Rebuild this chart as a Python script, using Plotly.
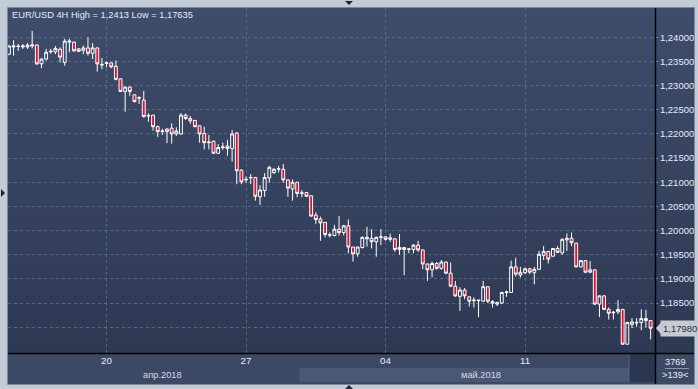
import base64
import pandas as pd
import plotly.graph_objects as go

# ---------------- data (EUR/USD, 4H) ----------------
open_ = [1.2365,1.2380,1.2382,1.2380,1.2380,1.2382,1.2384,1.2345,1.2355,1.2370,
         1.2370,1.2375,1.2348,1.2390,1.2390,1.2376,1.2373,1.2378,1.2367,1.2378,
         1.2344,1.2346,1.2347,1.2340,1.2314,1.2288,1.2297,1.2281,1.2274,1.2270,
         1.2237,1.2239,1.2215,1.2205,1.2205,1.2212,1.2200,1.2200,1.2239,1.2232,
         1.2228,1.2217,1.2201,1.2182,1.2185,1.2160,1.2172,1.2175,1.2170,1.2202,
         1.2125,1.2105,1.2109,1.2110,1.2070,1.2083,1.2109,1.2120,1.2127,1.2127,
         1.2105,1.2086,1.2100,1.2077,1.2079,1.2072,1.2032,1.2024,1.2017,1.1991,
         1.1990,1.2003,1.1996,1.2010,1.1966,1.1952,1.1965,1.1983,1.1984,1.1977,
         1.1986,1.1987,1.1982,1.1983,1.1961,1.1965,1.1961,1.1961,1.1970,1.1960,
         1.1931,1.1919,1.1932,1.1922,1.1935,1.1912,1.1885,1.1864,1.1877,1.1863,
         1.1855,1.1855,1.1854,1.1884,1.1853,1.1848,1.1850,1.1872,1.1872,1.1925,
         1.1908,1.1913,1.1921,1.1913,1.1920,1.1949,1.1957,1.1947,1.1963,1.1954,
         1.1981,1.1984,1.1974,1.1925,1.1938,1.1919,1.1919,1.1848,1.1865,1.1837,
         1.1830,1.1832,1.1837,1.1765,1.1806,1.1809,1.1810,1.1818,1.1814]
high = [1.2383,1.2394,1.2386,1.2386,1.2388,1.2413,1.2385,1.2356,1.2376,1.2376,
        1.2382,1.2379,1.2397,1.2397,1.2391,1.2378,1.2383,1.2400,1.2388,1.2379,
        1.2357,1.2350,1.2348,1.2352,1.2315,1.2298,1.2298,1.2282,1.2278,1.2289,
        1.2243,1.2239,1.2217,1.2211,1.2212,1.2222,1.2214,1.2243,1.2242,1.2237,
        1.2229,1.2218,1.2215,1.2198,1.2186,1.2179,1.2182,1.2188,1.2208,1.2204,
        1.2127,1.2112,1.2117,1.2111,1.2094,1.2119,1.2134,1.2129,1.2134,1.2138,
        1.2106,1.2106,1.2101,1.2084,1.2080,1.2073,1.2038,1.2029,1.2018,1.1996,
        1.2012,1.2030,1.2012,1.2023,1.1966,1.1967,1.1988,1.2008,1.2003,1.1988,
        1.2003,1.1988,1.1994,1.1984,1.1993,1.1966,1.1963,1.1972,1.1979,1.1961,
        1.1932,1.1936,1.1935,1.1939,1.1936,1.1934,1.1896,1.1883,1.1881,1.1864,
        1.1862,1.1857,1.1896,1.1885,1.1856,1.1853,1.1874,1.1876,1.1938,1.1944,
        1.1925,1.1923,1.1923,1.1925,1.1958,1.1968,1.1958,1.1964,1.1968,1.1984,
        1.1994,1.1996,1.1975,1.1939,1.1939,1.1937,1.1920,1.1866,1.1866,1.1841,
        1.1834,1.1856,1.1838,1.1811,1.1819,1.1819,1.1837,1.1836,1.1815]
low = [1.2363,1.2362,1.2372,1.2376,1.2376,1.2377,1.2343,1.2336,1.2352,1.2366,
       1.2365,1.2348,1.2341,1.2369,1.2370,1.2370,1.2365,1.2362,1.2355,1.2329,
       1.2334,1.2338,1.2336,1.2311,1.2287,1.2246,1.2279,1.2265,1.2262,1.2234,
       1.2225,1.2207,1.2194,1.2198,1.2181,1.2180,1.2196,1.2198,1.2229,1.2221,
       1.2214,1.2182,1.2168,1.2168,1.2160,1.2159,1.2167,1.2155,1.2143,1.2096,
       1.2096,1.2099,1.2096,1.2062,1.2053,1.2070,1.2099,1.2117,1.2120,1.2099,
       1.2070,1.2062,1.2069,1.2069,1.2070,1.2029,1.2014,1.1979,1.1986,1.1986,
       1.1988,1.1990,1.1990,1.1953,1.1936,1.1946,1.1963,1.1967,1.1963,1.1946,
       1.1970,1.1979,1.1977,1.1956,1.1950,1.1908,1.1953,1.1953,1.1956,1.1920,
       1.1896,1.1903,1.1919,1.1919,1.1910,1.1883,1.1863,1.1834,1.1858,1.1843,
       1.1841,1.1821,1.1853,1.1850,1.1841,1.1844,1.1848,1.1863,1.1871,1.1905,
       1.1903,1.1910,1.1910,1.1889,1.1919,1.1939,1.1932,1.1946,1.1954,1.1950,
       1.1958,1.1968,1.1924,1.1924,1.1912,1.1912,1.1846,1.1821,1.1836,1.1816,
       1.1816,1.1827,1.17635,1.1764,1.1798,1.1801,1.1794,1.1800,1.1775]
close = [1.2382,1.2382,1.2381,1.2382,1.2384,1.2384,1.2345,1.2355,1.2369,1.2371,
         1.2377,1.2359,1.2392,1.2392,1.2372,1.2371,1.2378,1.2367,1.2378,1.2345,
         1.2343,1.2347,1.2339,1.2313,1.2288,1.2297,1.2288,1.2267,1.2275,1.2236,
         1.2238,1.2215,1.2205,1.2206,1.2210,1.2200,1.2206,1.2239,1.2232,1.2227,
         1.2215,1.2200,1.2182,1.2183,1.2160,1.2172,1.2173,1.2170,1.2200,1.2124,
         1.2101,1.2106,1.2110,1.2071,1.2084,1.2110,1.2131,1.2127,1.2128,1.2105,
         1.2088,1.2100,1.2077,1.2078,1.2071,1.2030,1.2023,1.2016,1.1992,1.1991,
         1.2003,1.1996,1.2010,1.1966,1.1952,1.1966,1.1986,1.1986,1.1977,1.1986,
         1.1987,1.1982,1.1985,1.1961,1.1965,1.1961,1.1962,1.1970,1.1960,1.1931,
         1.1919,1.1932,1.1922,1.1935,1.1912,1.1885,1.1865,1.1877,1.1865,1.1854,
         1.1856,1.1856,1.1884,1.1854,1.1850,1.1851,1.1872,1.1873,1.1925,1.1910,
         1.1914,1.1921,1.1914,1.1920,1.1951,1.1957,1.1941,1.1963,1.1955,1.1982,
         1.1984,1.1975,1.1925,1.1938,1.1914,1.1914,1.1848,1.1865,1.1837,1.1829,
         1.1831,1.1837,1.1765,1.1810,1.1811,1.1810,1.1818,1.1814,1.1798]

first_bar = "2018-04-16 12:00"
tick_labels = ["20", "27", "04", "11"]
price_ticks = [1.18, 1.185, 1.19, 1.195, 1.20, 1.205, 1.21, 1.215, 1.22, 1.225, 1.23, 1.235, 1.24]
price_tick_labels = ["", "1,18500", "1,19000", "1,19500", "1,20000", "1,20500", "1,21000",
                     "1,21500", "1,22000", "1,22500", "1,23000", "1,23500", "1,24000"]
month_labels = ["апр.2018", "май.2018"]
title_text = "EUR/USD 4H High = 1,2413 Low = 1,17635"
last_price_text = "1,17980"
last_price = 1.1798
bars_total_text = "3769"
bars_visible_text = ">139<"

# trading-time bars (weekends skipped)
n = len(close)
times = [t for t in pd.date_range(first_bar, periods=n * 2, freq="4h") if t.weekday() < 5][:n]
xs = list(range(n))
tick_idx = [i for i, t in enumerate(times) if t.weekday() == 4 and t.hour == 0]
month_start = [i for i, t in enumerate(times) if t.day == 1 and t.hour == 0][0]

# ---------------- geometry (pixels) ----------------
W, H = 698, 389
L, R, T, B = 8, 655, 8, 353
PW, PH = R - L, B - T
def PX(px): return (px - L) / PW
def PY(py): return (B - py) / PH

BG_TOP, BG_BOT = "#3f4c6a", "#2c3852"
svg = f'''<svg xmlns="http://www.w3.org/2000/svg" width="100" height="100" preserveAspectRatio="none">
<defs><linearGradient id="g" x1="0" y1="0" x2="0" y2="1">
<stop offset="0" stop-color="{BG_TOP}"/><stop offset="1" stop-color="{BG_BOT}"/></linearGradient></defs>
<rect width="100" height="100" fill="url(#g)"/></svg>'''
src = "data:image/svg+xml;base64," + base64.b64encode(svg.encode()).decode()

FONT = "Liberation Sans, Arial, sans-serif"
TXT = "#e6ecf5"

fig = go.Figure(go.Candlestick(
    x=xs, open=open_, high=high, low=low, close=close,
    increasing=dict(line=dict(color="#ffffff", width=1), fillcolor="rgba(0,0,0,0)"),
    decreasing=dict(line=dict(color="#ffffff", width=1), fillcolor="#e0112f"),
    whiskerwidth=0, hoverinfo="skip", showlegend=False,
))

shapes = []
def rect(x0, y0, x1, y1, fill, line=None, lw=0):
    shapes.append(dict(type="rect", xref="paper", yref="paper", x0=PX(x0), x1=PX(x1),
                       y0=PY(y1), y1=PY(y0), fillcolor=fill,
                       line=dict(width=lw, color=line or fill), layer="below"))
def hline(x0, x1, y, color, w=1, layer="above"):
    shapes.append(dict(type="line", xref="paper", yref="paper", x0=PX(x0), x1=PX(x1),
                       y0=PY(y), y1=PY(y), line=dict(color=color, width=w), layer=layer))
def vline(x, y0, y1, color, w=1, layer="above"):
    shapes.append(dict(type="line", xref="paper", yref="paper", x0=PX(x), x1=PX(x),
                       y0=PY(y0), y1=PY(y1), line=dict(color=color, width=w), layer=layer))
def tri(pts, color):
    path = "M " + " L ".join(f"{PX(a)},{PY(b)}" for a, b in pts) + " Z"
    shapes.append(dict(type="path", xref="paper", yref="paper", path=path,
                       fillcolor=color, line=dict(width=0), layer="above"))

# bottom strip
rect(L, B, 694, 384, "#3c4965")
shapes.append(dict(type="rect", xref="x", yref="paper", x0=month_start - 0.5, x1=xs[-1] + 1,
                   y0=PY(382), y1=PY(368), fillcolor="#4b5874", line=dict(width=0), layer="below"))
rect(629, 354, 655, 382, "#2b3651")
vline(629, 354, 382, "#56627c", 1, "below")
# frame lines
vline(R + 0.5, T, 384, "#000000", 1.5)
hline(L, 694, B + 0.5, "#000000", 1.5)
hline(665, 689, 368.5, "#8995a8", 1)
shapes.append(dict(type="rect", xref="paper", yref="paper", x0=PX(7.5), x1=PX(694.5),
                   y0=PY(384.5), y1=PY(7.5), line=dict(color="#7d8899", width=1), layer="above"))
# scroll arrows on the frame
tri([(345, 1), (353, 1), (349, 5)], "#1e2536")
tri([(1, 189), (1, 197), (5, 193)], "#1e2536")
tri([(345, 389), (353, 389), (349, 385)], "#1e2536")
# last-price tag
tri([(656, 328.3), (661, 322.5), (661, 334.1)], "#c6cbd3")

annotations = [
    dict(xref="paper", yref="paper", x=PX(10), y=PY(14.5), xanchor="left", yanchor="middle",
         text=title_text, showarrow=False, font=dict(family=FONT, size=9.3, color=TXT)),
    dict(xref="paper", yref="y", x=PX(660), y=last_price, xanchor="left", yanchor="middle",
         text=last_price_text, showarrow=False, bgcolor="#c6cbd3", borderpad=2,
         font=dict(family=FONT, size=9.5, color="#2b2f38")),
    dict(xref="paper", yref="paper", x=PX(675), y=PY(362), xanchor="center", yanchor="middle",
         text=bars_total_text, showarrow=False, font=dict(family=FONT, size=9.3, color=TXT)),
    dict(xref="paper", yref="paper", x=PX(675), y=PY(374.5), xanchor="center", yanchor="middle",
         text=bars_visible_text, showarrow=False, font=dict(family=FONT, size=9.3, color=TXT)),
]
month_pos = [(xs[0] + month_start) / 2 + 1.5, (month_start + xs[-1]) / 2 + 1]
for lab, mx in zip(month_labels, month_pos):
    annotations.append(dict(xref="x", yref="paper", x=mx, y=PY(374.5), xanchor="center",
                            yanchor="middle", text=lab, showarrow=False,
                            font=dict(family=FONT, size=9.3, color="#d3dae6")))

GRID = "#5a6782"
fig.update_layout(
    width=W, height=H, autosize=False,
    margin=dict(l=L, r=W - R, t=T, b=H - B, pad=0),
    paper_bgcolor="#c3cbd6", plot_bgcolor="rgba(0,0,0,0)",
    showlegend=False, hovermode=False, dragmode=False,
    boxgap=0.12,
    images=[dict(source=src, xref="paper", yref="paper", x=PX(8), y=PY(8),
                 sizex=PX(694) - PX(8), sizey=PY(8) - PY(384), sizing="stretch",
                 xanchor="left", yanchor="top", layer="below")],
    shapes=shapes, annotations=annotations,
    xaxis=dict(range=[-0.2, 138.95], rangeslider=dict(visible=False),
               tickmode="array", tickvals=tick_idx, ticktext=tick_labels,
               showgrid=True, gridcolor=GRID, griddash="3px,3px", gridwidth=1,
               zeroline=False, showline=False, ticks="", ticklen=0, automargin=False,
               tickfont=dict(family=FONT, size=9.8, color=TXT)),
    yaxis=dict(side="right", range=[1.17468, 1.24606],
               tickmode="array", tickvals=price_ticks, ticktext=price_tick_labels,
               showgrid=True, gridcolor=GRID, griddash="3px,3px",
               gridwidth=1, zeroline=False, showline=False, automargin=False,
               ticks="outside", ticklen=2, tickcolor="#6d93c6",
               tickfont=dict(family=FONT, size=9.5, color=TXT)),
)

fig.write_html("out.html", config={"displayModeBar": False, "staticPlot": True},
               post_script="document.body.style.margin='0';document.body.style.padding='0';"
                           "document.body.style.overflow='hidden';")
